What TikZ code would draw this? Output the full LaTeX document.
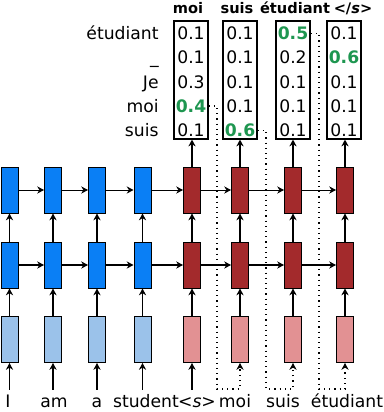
\documentclass[tikz,border=0pt]{standalone}
\usepackage{fontspec}
\setmainfont{DejaVu Sans}
\usetikzlibrary{arrows.meta}
\definecolor{encblue}{RGB}{10,127,245}
\definecolor{embblue}{RGB}{155,194,234}
\definecolor{decred}{RGB}{163,42,44}
\definecolor{embred}{RGB}{226,145,147}
\definecolor{hitgreen}{RGB}{30,150,80}

\newcommand{\hi}[1]{\textcolor{hitgreen}{\bfseries #1}}

\begin{document}
\begin{tikzpicture}[
  x=0.5pt, y=-0.5pt,
  font=\fontsize{8.6}{10}\selectfont,
  >={Stealth[length=3.4pt,width=3.6pt]},
  arrow/.style={->, line width=0.9pt},
  thinarrow/.style={->, line width=0.5pt},
  feed/.style={->, dotted, line width=0.6pt},
  cell/.style={draw, line width=0.5pt, minimum width=8.5pt, minimum height=23pt, inner sep=0pt},
  enc/.style={cell, fill=encblue},
  encemb/.style={cell, fill=embblue},
  dec/.style={cell, fill=decred},
  decemb/.style={cell, fill=embred},
  tab/.style={draw, line width=0.6pt, minimum width=17pt, minimum height=59pt, inner sep=0pt},
  prob/.style={anchor=base, inner sep=1pt},
  head/.style={anchor=base, inner sep=1pt, font=\fontsize{7.3}{9}\selectfont\bfseries},
  rowlab/.style={anchor=base east, inner sep=1pt},
  word/.style={anchor=base, inner sep=1pt, text height=7.5pt, text depth=2pt}
]
\useasboundingbox (0,0) rectangle (384,412);

% Encoder columns
\foreach \i/\x in {1/9.5,2/53,3/97,4/142.5} {
  \node[encemb] (e\i) at (\x,339.5) {};
  \node[enc] (m\i) at (\x,265) {};
  \node[enc] (t\i) at (\x,190) {};
}

% Decoder columns
\foreach \i/\x in {5/192,6/240,7/293,8/345} {
  \node[decemb] (e\i) at (\x,339.5) {};
  \node[dec] (m\i) at (\x,265) {};
  \node[dec] (t\i) at (\x,190) {};
}

% Output distributions
\foreach \c/\x/\vals in {
5/191/{0.1,0.1,0.3,\hi{0.4},0.1},
6/240/{0.1,0.1,0.1,0.1,\hi{0.6}},
7/293/{\hi{0.5},0.2,0.1,0.1,0.1},
8/344/{0.1,\hi{0.6},0.1,0.1,0.1}}{
  \node[tab] (p\c) at (\x,80) {};
  \foreach \v [count=\r] in \vals
    \node[prob] (n\c-\r) at (\x,{15.25+24.25*\r}) {\v};
}
\foreach \lab [count=\r] in {étudiant,\char95,Je,moi,suis}
  \node[rowlab] (r\r) at (161,{15.25+24.25*\r}) {\lab};

\node[head] (h5) at (188,13.5) {moi};
\node[head] (h6) at (237,13.5) {suis};
\node[head] (h7) at (295,13.5) {étudiant};
\node[head] (h8) at (353,13.5) {</\textit{s}>};

% Input words
\foreach \i/\x/\w in {1/8/I,2/54/am,3/97/a,4/146/student,5/197/{<\textit{s}>},6/235/moi,7/283/suis,8/347/étudiant}
  \node[word] (w\i) at (\x,407) {\w};

% Connections
\foreach \i in {1,...,8} {
  \draw[arrow] (e\i) -- (m\i);
  \draw[arrow] (m\i) -- (t\i);
}
\foreach \i [count=\j from 2] in {1,...,7} {
  \draw[thinarrow] (t\i) -- (t\j);
  \draw[arrow] (m\i) -- (m\j);
}
\foreach \i in {1,...,5}
  \draw[arrow] (e\i.south |- w\i.north) -- (e\i.south);
\foreach \i in {5,...,8}
  \draw[arrow] (t\i.north) -- (t\i.north |- p\i.south);

% Feeding predictions back
\coordinate (c6) at (217,389);
\coordinate (c7) at (266,389);
\coordinate (c8) at (319,389);
\draw[feed] (n5-4.east) -| (c6) -| (e6.south);
\draw[feed] (n6-5.east) -| (c7) -| (e7.south);
\draw[feed] (n7-1.east) -| (c8) -| (e8.south);

\end{tikzpicture}
\end{document}
